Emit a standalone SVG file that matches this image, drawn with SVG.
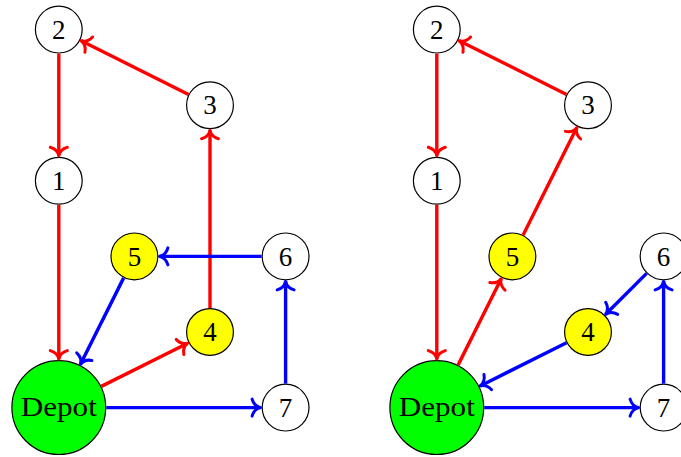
<svg xmlns="http://www.w3.org/2000/svg" width="681" height="457" viewBox="0 0 681 457">
  <style>
    .node circle { stroke: #000; stroke-width: 1.2; }
    .plain circle { fill: #fff; }
    .yellow circle { fill: #ffff00; }
    .depot circle { fill: #00ff00; }
    .node text { font-family: "Liberation Serif", "Times New Roman", serif; font-size: 27px; text-anchor: middle; fill: #000; }
    .depot text { font-size: 27px; }
    .edge { fill: none; stroke-width: 3.4; }
    .red { stroke: #ff0000; marker-end: url(#tipRed); }
    .blue { stroke: #0000ff; marker-end: url(#tipBlue); }
  </style>
  <defs>
    <marker id="tipRed" markerUnits="userSpaceOnUse" orient="auto" refX="0" refY="0" markerWidth="20" markerHeight="20" overflow="visible">
      <path d="M -8.5,-8.5 C -7,-3.2 -3,-0.6 0,0 C -3,0.6 -7,3.2 -8.5,8.5" fill="none" stroke="#ff0000" stroke-width="3" stroke-linecap="round" stroke-linejoin="round"/>
    </marker>
    <marker id="tipBlue" markerUnits="userSpaceOnUse" orient="auto" refX="0" refY="0" markerWidth="20" markerHeight="20" overflow="visible">
      <path d="M -8.5,-8.5 C -7,-3.2 -3,-0.6 0,0 C -3,0.6 -7,3.2 -8.5,8.5" fill="none" stroke="#0000ff" stroke-width="3" stroke-linecap="round" stroke-linejoin="round"/>
    </marker>
  </defs>

  <!-- left route -->
  <g id="left-nodes">
    <g id="L-depot" class="node depot"><circle cx="58.8" cy="407.6" r="46.9"/><text x="58.8" y="416.2" textLength="76" lengthAdjust="spacingAndGlyphs">Depot</text></g>
    <g id="L-n1" class="node plain"><circle cx="58.8" cy="180.8" r="23.4"/><text x="58.8" y="189.9">1</text></g>
    <g id="L-n2" class="node plain"><circle cx="58.8" cy="29.6" r="23.4"/><text x="58.8" y="38.7">2</text></g>
    <g id="L-n3" class="node plain"><circle cx="210" cy="105.2" r="23.4"/><text x="210" y="114.3">3</text></g>
    <g id="L-n4" class="node yellow"><circle cx="210" cy="332" r="23.4"/><text x="210" y="341.1">4</text></g>
    <g id="L-n5" class="node yellow"><circle cx="134.4" cy="256.4" r="23.4"/><text x="134.4" y="265.5">5</text></g>
    <g id="L-n6" class="node plain"><circle cx="285.6" cy="256.4" r="23.4"/><text x="285.6" y="265.5">6</text></g>
    <g id="L-n7" class="node plain"><circle cx="285.6" cy="407.6" r="23.4"/><text x="285.6" y="416.7">7</text></g>
  </g>

  <!-- right route -->
  <g id="right-nodes">
    <g id="R-depot" class="node depot"><circle cx="436.8" cy="407.6" r="46.9"/><text x="436.8" y="416.2" textLength="76" lengthAdjust="spacingAndGlyphs">Depot</text></g>
    <g id="R-n1" class="node plain"><circle cx="436.8" cy="180.8" r="23.4"/><text x="436.8" y="189.9">1</text></g>
    <g id="R-n2" class="node plain"><circle cx="436.8" cy="29.6" r="23.4"/><text x="436.8" y="38.7">2</text></g>
    <g id="R-n3" class="node plain"><circle cx="588" cy="105.2" r="23.4"/><text x="588" y="114.3">3</text></g>
    <g id="R-n4" class="node yellow"><circle cx="588" cy="332" r="23.4"/><text x="588" y="341.1">4</text></g>
    <g id="R-n5" class="node yellow"><circle cx="512.4" cy="256.4" r="23.4"/><text x="512.4" y="265.5">5</text></g>
    <g id="R-n6" class="node plain"><circle cx="663.6" cy="256.4" r="23.4"/><text x="663.6" y="265.5">6</text></g>
    <g id="R-n7" class="node plain"><circle cx="663.6" cy="407.6" r="23.4"/><text x="663.6" y="416.7">7</text></g>
  </g>

  <g id="connectors">
    <!-- left: red tour -->
    <line class="edge red" x1="58.8" y1="53.6" x2="58.8" y2="155.8"/>
    <line class="edge red" x1="58.8" y1="204.8" x2="58.8" y2="359.1"/>
    <line class="edge red" x1="188.53" y1="94.47" x2="81.16" y2="40.78"/>
    <line class="edge red" x1="210" y1="308" x2="210" y2="130.2"/>
    <line class="edge red" x1="101.28" y1="386.36" x2="187.64" y2="343.18"/>
    <!-- left: blue tour -->
    <line class="edge blue" x1="106.3" y1="407.6" x2="260.6" y2="407.6"/>
    <line class="edge blue" x1="285.6" y1="383.6" x2="285.6" y2="281.4"/>
    <line class="edge blue" x1="261.6" y1="256.4" x2="159.4" y2="256.4"/>
    <line class="edge blue" x1="123.67" y1="277.87" x2="80.49" y2="364.22"/>

    <!-- right: red tour -->
    <line class="edge red" x1="436.8" y1="53.6" x2="436.8" y2="155.8"/>
    <line class="edge red" x1="436.8" y1="204.8" x2="436.8" y2="359.1"/>
    <line class="edge red" x1="566.53" y1="94.47" x2="459.16" y2="40.78"/>
    <line class="edge red" x1="458.04" y1="365.12" x2="501.22" y2="278.76"/>
    <line class="edge red" x1="523.13" y1="234.93" x2="576.82" y2="127.56"/>
    <!-- right: blue tour -->
    <line class="edge blue" x1="484.3" y1="407.6" x2="638.6" y2="407.6"/>
    <line class="edge blue" x1="663.6" y1="383.6" x2="663.6" y2="281.4"/>
    <line class="edge blue" x1="646.63" y1="273.37" x2="605.68" y2="314.32"/>
    <line class="edge blue" x1="566.53" y1="342.73" x2="480.18" y2="385.91"/>
  </g>
</svg>
